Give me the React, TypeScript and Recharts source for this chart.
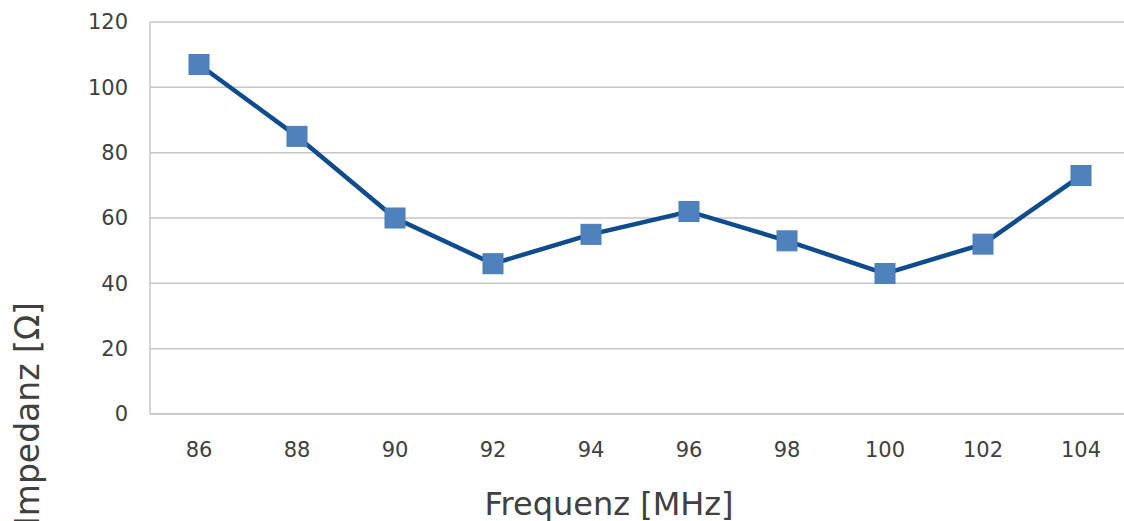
import { LineChart, Line, XAxis, YAxis, CartesianGrid } from 'recharts'

const frequencies = ['86', '88', '90', '92', '94', '96', '98', '100', '102', '104']
const impedance = [107, 85, 60, 46, 55, 62, 53, 43, 52, 73]
const yTicks = [0, 20, 40, 60, 80, 100, 120]

const data = frequencies.map((f, i) => ({ f, z: impedance[i] }))

const FONT = '"DejaVu Sans", sans-serif'
const TEXT = '#404040'

function SquareDot(props: any) {
  const { cx, cy, index } = props
  if (cx == null || cy == null) return null
  return <rect key={index} x={cx - 10} y={cy - 10} width={20} height={20} fill="#4F81BD" stroke="#4A7EBB" strokeWidth={1} />
}

// axis titles placed from the axis viewBox
function XTitle({ viewBox }: any) {
  const cx = viewBox.x + viewBox.width / 2 - 31
  return (
    <text x={cx} y={515} textAnchor="middle" fill={TEXT} fontSize={32} fontFamily={FONT}>
      Frequenz [MHz]
    </text>
  )
}

function YTitle({ viewBox }: any) {
  const x = 39
  const y = viewBox.y + viewBox.height / 2 + 196
  return (
    <text x={x} y={y} transform={`rotate(-90, ${x}, ${y})`} textAnchor="middle" fill={TEXT} fontSize={33} fontFamily={FONT}>
      Impedanz [Ω]
    </text>
  )
}

export default function App() {
  return (
    <div style={{ position: 'absolute', left: 0, top: 0, width: 1124, height: 521, overflow: 'hidden', background: '#fff' }}>
      <LineChart width={1140} height={521} data={data} margin={{ top: 22, right: 10, left: 0, bottom: 0 }}>
        <CartesianGrid vertical={false} stroke="#c6c6c6" strokeWidth={1.5} />
        <XAxis
          dataKey="f"
          height={107}
          padding={{ left: 49, right: 49 }}
          tickLine={false}
          axisLine={{ stroke: '#c6c6c6', strokeWidth: 1.5 }}
          tickMargin={22}
          tick={{ fill: TEXT, fontSize: 21, fontFamily: FONT }}
          label={<XTitle />}
        />
        <YAxis
          width={150}
          domain={[0, 120]}
          ticks={yTicks}
          interval={0}
          tickLine={false}
          axisLine={{ stroke: '#c6c6c6', strokeWidth: 1.5 }}
          tickMargin={16}
          tick={{ fill: TEXT, fontSize: 21, fontFamily: FONT }}
          label={<YTitle />}
        />
        <Line
          dataKey="z"
          stroke="#0F4C8D"
          strokeWidth={4.5}
          dot={<SquareDot />}
          activeDot={false}
          isAnimationActive={false}
        />
      </LineChart>
    </div>
  )
}
